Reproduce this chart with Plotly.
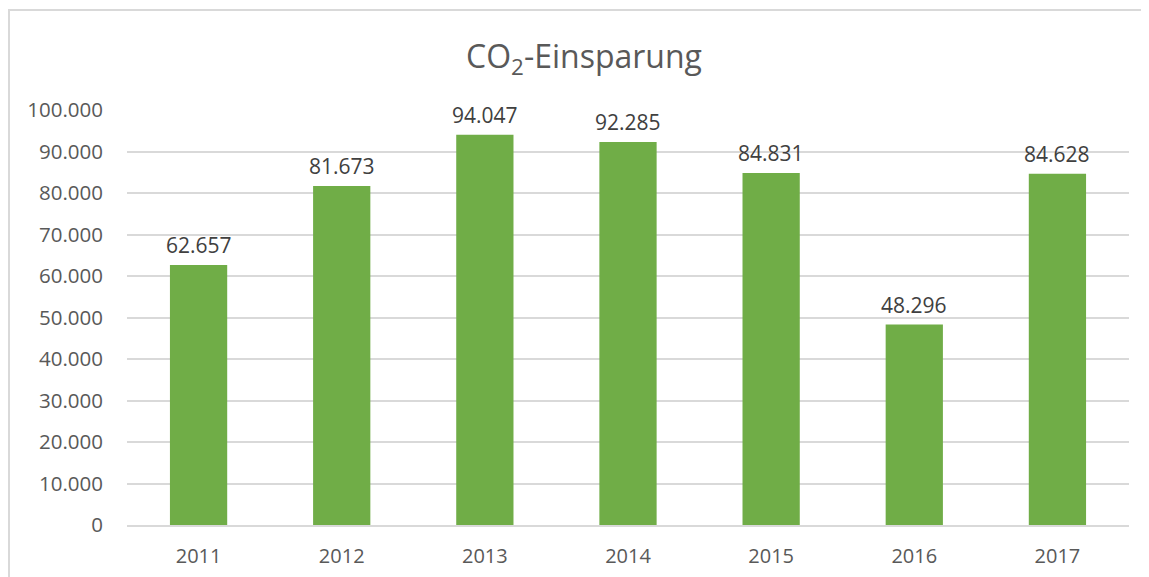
import plotly.graph_objects as go

years = ["2011", "2012", "2013", "2014", "2015", "2016", "2017"]
savings = [62657, 81673, 94047, 92285, 84831, 48296, 84628]
tick_vals = [0, 10000, 20000, 30000, 40000, 50000, 60000, 70000, 80000, 90000, 100000]
tick_text = ["0", "10.000", "20.000", "30.000", "40.000", "50.000", "60.000",
             "70.000", "80.000", "90.000", "100.000"]

def de_fmt(v):
    return f"{v:,}".replace(",", ".")

OFF = 8  # page body margin
W, H = 1149 - OFF, 577 - OFF
ml, mt = 127 - OFF, 110 - OFF
pw, ph = 1002, 415
mr = W - ml - pw
mb = H - mt - ph

fig = go.Figure()
fig.add_trace(go.Bar(
    x=years, y=savings,
    marker=dict(color="#70AD47", line=dict(width=0)),
    width=0.4,
    hoverinfo="x+y",
))

# category axis: annotation x given as category index
for i, v in enumerate(savings):
    fig.add_annotation(x=i, y=v, text=de_fmt(v), showarrow=False,
                       yanchor="bottom", yshift=4,
                       font=dict(size=21, color="#404040", family="Open Sans"))

fig.update_layout(
    width=W, height=H,
    margin=dict(l=ml, r=mr, t=mt, b=mb, autoexpand=False),
    paper_bgcolor="white", plot_bgcolor="white",
    showlegend=False,
    title=dict(text="CO<sub>2</sub>-Einsparung", x=(584 - OFF) / W, xanchor="center",
               y=1 - (57 - OFF) / H, yanchor="middle",
               font=dict(size=32, color="#595959", family="Open Sans")),
    font=dict(family="Open Sans", color="#595959"),
    xaxis=dict(type="category", range=[-0.5, len(years) - 0.5], automargin=False,
               showgrid=False, showline=True, linecolor="#D9D9D9",
               linewidth=1.5, ticks="", ticklabelstandoff=12,
               tickfont=dict(size=20, color="#595959")),
    yaxis=dict(range=[0, 100000], tickvals=tick_vals, ticktext=tick_text,
               automargin=False,
               showgrid=True, gridcolor="#D9D9D9", gridwidth=1.5,
               zeroline=False, ticks="", ticklabelstandoff=23,
               tickfont=dict(size=20.5, color="#595959")),
    shapes=[
        dict(type="line", xref="paper", yref="paper",
             x0=(0 - ml) / pw, x1=(W + 10 - ml) / pw,
             y0=1 + (mt - 2) / ph, y1=1 + (mt - 2) / ph,
             line=dict(color="#D9D9D9", width=2)),
        dict(type="line", xref="paper", yref="paper",
             x0=(1 - ml) / pw, x1=(1 - ml) / pw,
             y0=1 + (mt - 2) / ph, y1=-(mb + 10) / ph,
             line=dict(color="#D9D9D9", width=2)),
    ],
)

fig.write_html("out.html")
